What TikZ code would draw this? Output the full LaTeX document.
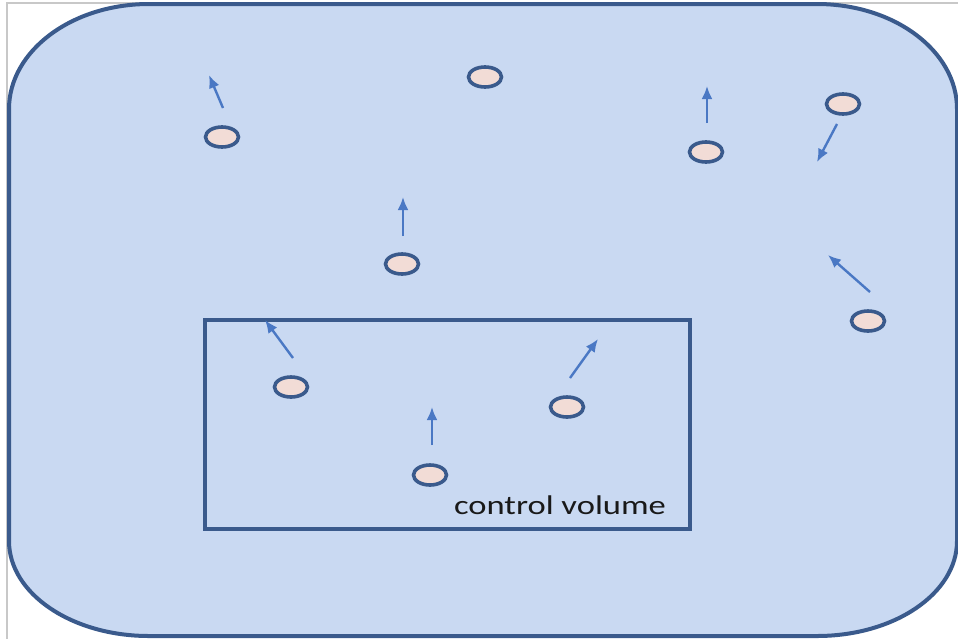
\documentclass[tikz,border=0pt]{standalone}
\usepackage{fontspec}
\setmainfont{Carlito}
\usetikzlibrary{arrows.meta,shapes.geometric}
\definecolor{bgfill}{HTML}{C9D9F2}
\definecolor{edge}{HTML}{3A5A8C}
\definecolor{arr}{HTML}{4A78C4}
\definecolor{pfill}{HTML}{F2DCD6}
\definecolor{frame}{HTML}{C8C8C8}
\tikzset{
  particle/.style={ellipse, draw=edge, fill=pfill, line width=3.6pt, minimum width=33pt, minimum height=20pt, inner sep=0pt},
  move/.style={draw=arr, line width=2.4pt, -{Latex[length=13pt,width=11pt]}},
}
\begin{document}
\begin{tikzpicture}[x=1pt,y=-1pt]
\useasboundingbox (0,0) rectangle (958,638);
\fill[white] (0,0) rectangle (958,638);
\draw[frame, line width=1.2pt] (7,640) -- (7,3) -- (960,3);
% outer rounded region
\draw[edge, fill=bgfill, line width=4pt]
  (149,4) -- (817,4)
  arc[start angle=270, end angle=360, x radius=140, y radius=105]
  -- (957,541)
  arc[start angle=0, end angle=90, x radius=140, y radius=95]
  -- (149,636)
  arc[start angle=90, end angle=180, x radius=140, y radius=95]
  -- (9,109)
  arc[start angle=180, end angle=270, x radius=140, y radius=105]
  -- cycle;
% control volume
\node[draw=edge, line width=3.6pt, minimum width=485pt, minimum height=209pt, inner sep=0pt] (cv) at (447.5,424.5) {};
\node[text=black!90, anchor=center, inner sep=0pt] (cvl) at (560,505) {\scalebox{1.28}[1]{\fontsize{27}{32}\selectfont control volume}};
% particles
\node[particle] (p1) at (222,137) {};
\node[particle] (p2) at (485,77) {};
\node[particle] (p3) at (706,152) {};
\node[particle] (p4) at (843,104) {};
\node[particle] (p5) at (402,264) {};
\node[particle] (p6) at (868,321) {};
\node[particle] (p7) at (291,387) {};
\node[particle] (p8) at (567,407) {};
\node[particle] (p9) at (430,475) {};
% arrow endpoints
\coordinate (a1s) at (223,108); \coordinate (a1e) at (209,75);
\coordinate (a3s) at (707,123); \coordinate (a3e) at (707,86);
\coordinate (a4s) at (837,124); \coordinate (a4e) at (817,162);
\coordinate (a5s) at (403,236); \coordinate (a5e) at (403,197);
\coordinate (a6s) at (870,292); \coordinate (a6e) at (828,255);
\coordinate (a7s) at (293,358); \coordinate (a7e) at (265,320);
\coordinate (a8s) at (570,378); \coordinate (a8e) at (598,339);
\coordinate (a9s) at (432,445); \coordinate (a9e) at (432,407);
\draw[move] (a1s) -- (a1e);
\draw[move] (a3s) -- (a3e);
\draw[move] (a4s) -- (a4e);
\draw[move] (a5s) -- (a5e);
\draw[move] (a6s) -- (a6e);
\draw[move] (a7s) -- (a7e);
\draw[move] (a8s) -- (a8e);
\draw[move] (a9s) -- (a9e);
\end{tikzpicture}
\end{document}
